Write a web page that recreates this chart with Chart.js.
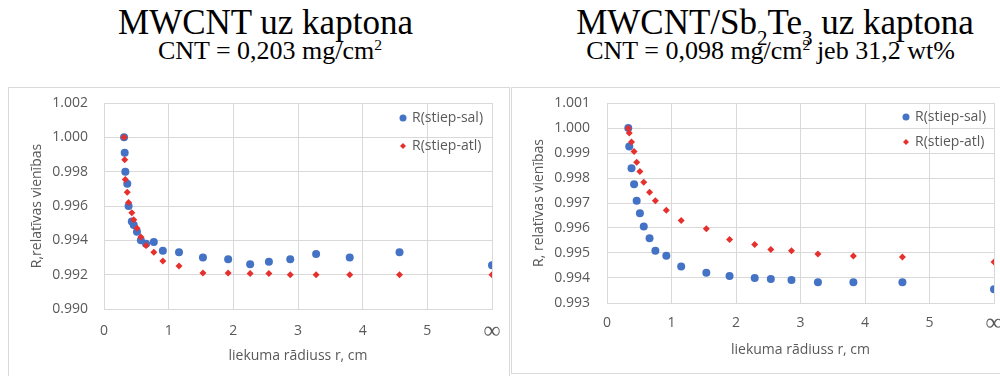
<!DOCTYPE html>
<html lang="lv">
<head>
<meta charset="UTF-8">
<script src="https://cdn.jsdelivr.net/npm/chart.js@4"></script>
<title>Pretestība liecot</title>
<style>
    body {
        margin: 0;
        width: 1000px;
        height: 376px;
        position: relative;
        overflow: hidden;
        background: #fff;
    }
    .title {
        position: absolute;
        font-family: "Liberation Serif", "Times New Roman", serif;
        color: #000;
        text-align: center;
        white-space: nowrap;
        line-height: 1;
    }
    .main { font-size: 35px; }
    .sub { font-size: 26px; }
    .title sup { font-size: 0.6em; vertical-align: 0.6em; line-height: 0; }
    .title sub { font-size: 0.6em; vertical-align: -0.5em; line-height: 0; }
    .box {
        position: absolute;
        border: 1px solid #d9d9d9;
        box-sizing: border-box;
    }
    canvas { position: absolute; }
</style>
</head>
<body>
    <div class="title main" style="left:0; top:5px; width:531px;">MWCNT uz kaptona</div>
    <div class="title sub" style="left:0; top:38px; width:540px;">CNT = 0,203 mg/cm<sup>2</sup></div>
    <div class="title main" style="left:550px; top:5px; width:450px;">MWCNT/Sb<sub>2</sub>Te<sub>3</sub> uz kaptona</div>
    <div class="title sub" style="left:541px; top:38px; width:459px;">CNT = 0,098 mg/cm<sup>2</sup> jeb 31,2 wt%</div>

    <div class="box" style="left:8px; top:87px; width:502px; height:300px;"></div>
    <div class="box" style="left:511px; top:87px; width:500px; height:287px;"></div>

    <canvas id="leftCanvas" width="502" height="288" style="left:8px; top:88px;"></canvas>
    <canvas id="rightCanvas" width="500" height="285" style="left:511px; top:88px;"></canvas>
<script>
// bending radius r, cm (6 stands for the flat sample, r = ∞)
const INF_X = 6;
const radiusPure = [0.31, 0.32, 0.33, 0.36, 0.38, 0.43, 0.46, 0.51, 0.57, 0.65, 0.77,
                    0.91, 1.16, 1.53, 1.92, 2.26, 2.55, 2.88, 3.28, 3.80, 4.57, INF_X];
const salPure = [1.0000, 0.9991, 0.9980, 0.9973, 0.9960, 0.9951, 0.9949, 0.9945, 0.9940, 0.9938, 0.9939,
                 0.9934, 0.9933, 0.9930, 0.9929, 0.9926, 0.99275, 0.9929, 0.9932, 0.9930, 0.9933, 0.99255];
const atlPure = [1.0000, 0.9987, 0.99755, 0.9968, 0.9962, 0.9956, 0.9952, 0.9947, 0.9942, 0.9937, 0.9933,
                 0.9928, 0.9925, 0.9921, 0.9921, 0.99207, 0.99207, 0.9920, 0.9920, 0.9920, 0.9920, 0.9920];

const radiusSbTe = [0.33, 0.345, 0.38, 0.42, 0.46, 0.51, 0.57, 0.66, 0.75, 0.92,
                    1.15, 1.54, 1.90, 2.29, 2.54, 2.86, 3.27, 3.82, 4.58, INF_X];
const salSbTe = [1.0000, 0.99926, 0.99839, 0.99775, 0.99709, 0.99659, 0.99606, 0.99559, 0.99509, 0.99489,
                 0.99446, 0.99421, 0.99408, 0.99400, 0.99396, 0.99392, 0.99383, 0.99383, 0.99383, 0.99355];
const atlSbTe = [0.99999, 0.99980, 0.99944, 0.99906, 0.99863, 0.99826, 0.99783, 0.99743, 0.99709, 0.99671,
                 0.99630, 0.99597, 0.99554, 0.99534, 0.99514, 0.99509, 0.99496, 0.99488, 0.99484, 0.99464];

const seriesNames = ['R(stiep-sal)', 'R(stiep-atl)'];
const xTitle = 'liekuma rādiuss r, cm';

const BLUE = '#4472c4';
const RED = '#e6302e';
const GRID = '#d9d9d9';
const TEXT = '#595959';
const FONT = '"Open Sans", "Liberation Sans", sans-serif';
const FSIZE = 14;

function toPoints(xs, ys) {
    return xs.map((x, i) => ({x: x, y: ys[i]}));
}

// legend drawn inside the plot, top right corner
const insideLegend = {
    id: 'insideLegend',
    afterDatasetsDraw(chart, args, opts) {
        const ctx = chart.ctx;
        const area = chart.chartArea;
        ctx.save();
        ctx.font = FSIZE + 'px ' + FONT;
        ctx.textBaseline = 'middle';
        ctx.textAlign = 'left';
        opts.order.forEach((di, row) => {
            const ds = chart.data.datasets[di];
            const x = area.right - opts.dx;
            const y = area.top + opts.dy + row * opts.gap;
            ctx.fillStyle = ds.backgroundColor;
            ctx.beginPath();
            if (ds.pointStyle === 'rectRot') {
                const r = ds.pointRadius - 0.5;
                ctx.moveTo(x, y - r);
                ctx.lineTo(x + r, y);
                ctx.lineTo(x, y + r);
                ctx.lineTo(x - r, y);
                ctx.closePath();
            } else {
                ctx.arc(x, y, ds.pointRadius - 0.5, 0, Math.PI * 2);
            }
            ctx.fill();
            ctx.fillStyle = TEXT;
            ctx.fillText(ds.label, x + 9, y);
        });
        ctx.restore();
    }
};

// the ∞ tick is set larger, in a serif face
function xTickFont(c) {
    if (c.tick && c.tick.value === INF_X) {
        return {family: '"Liberation Serif", serif', size: 24, lineHeight: 0.75};
    }
    return {family: FONT, size: FSIZE};
}

function makeChart(canvasId, xs, sal, atl, cfg) {
    return new Chart(document.getElementById(canvasId), {
        type: 'scatter',
        data: {
            datasets: [
            {
                label: seriesNames[0],
                data: toPoints(xs, sal),
                backgroundColor: BLUE,
                pointStyle: 'circle',
                pointRadius: 4,
                pointBorderWidth: 0,
                order: 2
            },
            {
                label: seriesNames[1],
                data: toPoints(xs, atl),
                backgroundColor: RED,
                pointStyle: 'rectRot',
                pointRadius: 3.5,
                pointBorderWidth: 0,
                order: 1
            }]
        },
        options: {
            responsive: false,
            animation: false,
            devicePixelRatio: 1,
            layout: {padding: {left: 0, top: cfg.padTop, right: cfg.padRight, bottom: 0}},
            plugins: {
                legend: {display: false},
                tooltip: {enabled: false},
                insideLegend: {order: [0, 1], dx: cfg.legDx, dy: cfg.legDy, gap: cfg.legGap}
            },
            scales: {
                x: {
                    type: 'linear',
                    min: 0,
                    max: INF_X,
                    ticks: {
                        stepSize: 1,
                        padding: cfg.xTickPad,
                        color: TEXT,
                        font: xTickFont,
                        callback: v => v === INF_X ? '∞' : String(v)
                    },
                    grid: {color: GRID, drawTicks: false},
                    border: {color: GRID},
                    title: {
                        display: true,
                        text: xTitle,
                        color: TEXT,
                        font: {family: FONT, size: FSIZE},
                        padding: {top: 0, bottom: cfg.xTitlePad}
                    },
                    // fixed height, and no extra side room for the end labels
                    afterFit: s => {
                        s.height = cfg.xHeight;
                        s.paddingLeft = 0;
                        s.paddingRight = 0;
                    }
                },
                y: {
                    min: cfg.yMin,
                    max: cfg.yMax,
                    ticks: {
                        stepSize: cfg.yStep,
                        padding: cfg.yTickPad,
                        color: TEXT,
                        font: {family: FONT, size: FSIZE},
                        callback: v => v.toFixed(3)
                    },
                    grid: {color: GRID, drawTicks: false},
                    border: {color: GRID},
                    title: {
                        display: true,
                        text: cfg.yTitle,
                        color: TEXT,
                        font: {family: FONT, size: FSIZE},
                        padding: {top: cfg.yTitlePad, bottom: 0}
                    },
                    afterFit: s => {
                        s.width = 96;
                        s.paddingTop = 0;
                        s.paddingBottom = 0;
                    }
                }
            }
        },
        plugins: [insideLegend]
    });
}

function build() {
    makeChart('leftCanvas', radiusPure, salPure, atlPure, {
        yMin: 0.990, yMax: 1.002, yStep: 0.002,
        yTitle: 'R,relatīvas vienības',
        padTop: 15, padRight: 18, xHeight: 67,
        xTickPad: 14, xTitlePad: 12, yTickPad: 16, yTitlePad: 21,
        legDx: 89, legDy: 15, legGap: 28
    });
    makeChart('rightCanvas', radiusSbTe, salSbTe, atlSbTe, {
        yMin: 0.993, yMax: 1.001, yStep: 0.001,
        yTitle: 'R, relatīvas vienības',
        padTop: 15, padRight: 17, xHeight: 70,
        xTickPad: 12, xTitlePad: 15, yTickPad: 17, yTitlePad: 20,
        legDx: 88, legDy: 14, legGap: 25
    });
}

Promise.all([
    document.fonts.load('15px "Open Sans"'),
    document.fonts.load('33px "Liberation Serif"')
]).then(build, build);
</script>
</body>
</html>
